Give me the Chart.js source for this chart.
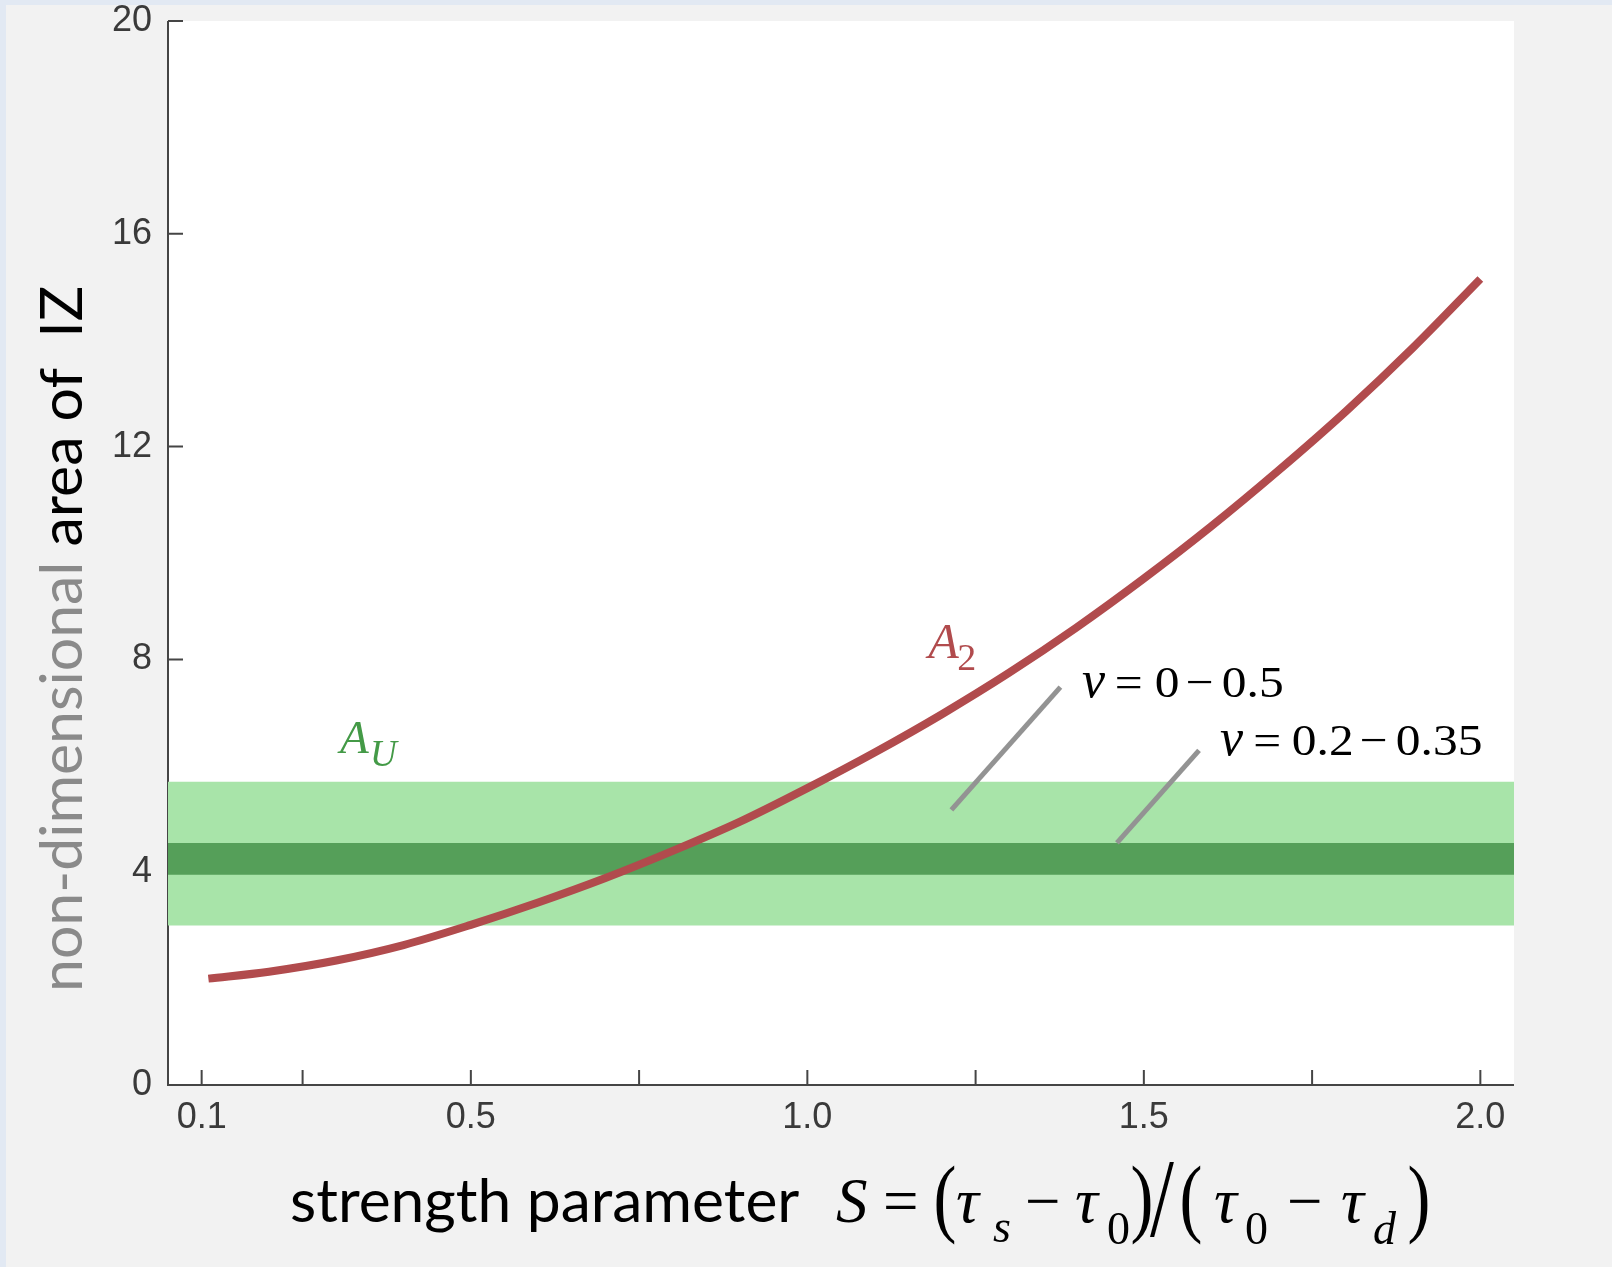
<!DOCTYPE html>
<html>
<head>
<meta charset="utf-8">
<script src="https://cdn.jsdelivr.net/npm/chart.js@4.4.1/dist/chart.umd.min.js"></script>
<style>
  html, body { margin: 0; padding: 0; background: #f2f2f2; }
  #wrap { width: 1612px; height: 1267px; position: relative; }
  canvas { display: block; }
</style>
</head>
<body>
<div id="wrap"><canvas id="chart" width="1612" height="1267"></canvas></div>
<script>
// Strength parameter S and the non-dimensional area A2 of the instability zone
const sValues  = [0.11, 0.2, 0.3, 0.4, 0.5, 0.6, 0.7, 0.8, 0.9, 1.0, 1.1, 1.2, 1.3, 1.4, 1.5, 1.6, 1.7, 1.8, 1.9, 2.0];
const a2Values = [2.00, 2.13, 2.34, 2.63, 3.01, 3.43, 3.89, 4.40, 4.95, 5.58, 6.25, 6.97, 7.75, 8.60, 9.52, 10.50, 11.55, 12.66, 13.86, 15.15];

// Range of A_U for ν = 0 – 0.5 and for ν = 0.2 – 0.35
const auRangeAll     = [3.0, 5.7];
const auRangeTypical = [3.95, 4.55];

// Leader lines pointing at the two bands: [S, A] pairs
const leaderAll     = [[1.214, 5.17], [1.376, 7.48]];
const leaderTypical = [[1.460, 4.55], [1.582, 6.29]];

// Label anchors (S, A)
const labelAU    = [0.301, 6.24];
const labelA2    = [1.175, 8.03];
const labelNuAll = [1.408, 7.29];
const labelNuTyp = [1.613, 6.20];

// Axes
const xLimits     = [0.05, 2.05];
const yLimits     = [0, 20];
const xTickValues = [0.1, 0.25, 0.5, 0.75, 1.0, 1.25, 1.5, 1.75, 2.0];
const xTickLabels = ['0.1', '', '0.5', '', '1.0', '', '1.5', '', '2.0'];
const yTickValues = [0, 4, 8, 12, 16, 20];
const yTickLabels = ['0', '4', '8', '12', '16', '20'];

const SERIF = '"Liberation Serif", "DejaVu Serif", serif';
const SANS  = '"Liberation Sans", Arial, sans-serif';
const HUMAN = 'Lato, "Open Sans", sans-serif';

const RED = '#b14b4d';
const GREEN_TEXT = '#449a47';

// Draws tokens whose ink left edges sit at x + token.at
function drawTokens(ctx, x, y, tokens, color) {
  for (const tk of tokens) {
    ctx.font = tk.font;
    const m = ctx.measureText(tk.t);
    const sx = tk.sx || 1, sy = tk.sy || 1;
    ctx.save();
    ctx.translate(x + (tk.at || 0) + m.actualBoundingBoxLeft * sx, y + (tk.dy || 0));
    ctx.scale(sx, sy);
    ctx.fillStyle = tk.color || color;
    ctx.textAlign = 'left';
    ctx.textBaseline = 'alphabetic';
    ctx.fillText(tk.t, 0, 0);
    ctx.restore();
  }
}

function nuTokens(a, b, offs) {
  const num = '45px ' + SERIF;
  return [
    { t: 'ν', font: 'italic 52px ' + SERIF, at: 0 },
    { t: '=', font: num, at: offs[0], sx: 1.1 },
    { t: a,   font: num, at: offs[1], sx: 1.1 },
    { t: '−', font: num, at: offs[2], sx: 1.1 },
    { t: b,   font: num, at: offs[3], sx: 1.1 }
  ];
}

const decor = {
  id: 'decor',
  beforeDraw(chart) {
    const { ctx, chartArea: a, width, height } = chart;
    ctx.save();
    ctx.fillStyle = '#e2e9f3';
    ctx.fillRect(0, 0, width, height);
    ctx.fillStyle = '#f2f2f2';
    ctx.fillRect(6, 5, width - 6, height - 5);
    ctx.fillStyle = '#ffffff';
    ctx.fillRect(a.left, a.top, a.right - a.left, a.bottom - a.top);
    ctx.restore();
  },
  beforeDatasetsDraw(chart) {
    // axis lines with inward tick marks
    const { ctx, chartArea: a, scales } = chart;
    const xs = scales.x, ys = scales.y;
    ctx.save();
    ctx.strokeStyle = '#454545';
    ctx.lineWidth = 2;
    ctx.beginPath();
    ctx.moveTo(a.left, a.top);
    ctx.lineTo(a.left, a.bottom);
    ctx.lineTo(a.right, a.bottom);
    for (const v of yTickValues) {
      const y = ys.getPixelForValue(v);
      ctx.moveTo(a.left, y);
      ctx.lineTo(a.left + 15, y);
    }
    for (const v of xTickValues) {
      const x = xs.getPixelForValue(v);
      ctx.moveTo(x, a.bottom);
      ctx.lineTo(x, a.bottom - 15);
    }
    ctx.stroke();
    ctx.restore();
  },
  afterDatasetsDraw(chart) {
    const { ctx, scales } = chart;
    const px = p => [scales.x.getPixelForValue(p[0]), scales.y.getPixelForValue(p[1])];

    // A_U
    let [x, y] = px(labelAU);
    drawTokens(ctx, x, y, [
      { t: 'A', font: 'italic 47px ' + SERIF, at: 0 },
      { t: 'U', font: 'italic 37px ' + SERIF, at: 36, dy: 13 }
    ], GREEN_TEXT);

    // A_2
    [x, y] = px(labelA2);
    drawTokens(ctx, x, y, [
      { t: 'A', font: 'italic 50px ' + SERIF, at: 0 },
      { t: '2', font: '38px ' + SERIF, at: 33, dy: 12 }
    ], RED);

    // ν ranges
    [x, y] = px(labelNuAll);
    drawTokens(ctx, x, y, nuTokens('0', '0.5', [35, 74, 106, 141]), '#000000');
    [x, y] = px(labelNuTyp);
    drawTokens(ctx, x, y, nuTokens('0.2', '0.35', [35.5, 73, 142, 177]), '#000000');
  },
  afterDraw(chart) {
    const { ctx } = chart;

    // y-axis title
    ctx.save();
    ctx.translate(82, 992);
    ctx.rotate(-Math.PI / 2);
    ctx.font = '59px ' + HUMAN;
    ctx.textBaseline = 'alphabetic';
    ctx.textAlign = 'left';
    ctx.fillStyle = '#8a8a8a';
    const part1 = 'non-dimensional';
    ctx.fillText(part1, 0, 0);
    const w1 = ctx.measureText(part1).width;
    ctx.fillStyle = '#000000';
    ctx.fillText(' area of  IZ', w1, 0);
    ctx.restore();

    // x-axis title
    const base = 1222;
    drawTokens(ctx, 292, base, [
      { t: 'strength parameter', font: '60.5px ' + HUMAN, at: 0 }
    ], '#000000');
    const big = '63px ' + SERIF;
    const itBig = 'italic 63px ' + SERIF;
    const tau = 'italic 64px ' + SERIF;
    const sub = 'italic 46px ' + SERIF;
    const subUp = '46px ' + SERIF;
    const paren = '86px ' + SERIF;
    drawTokens(ctx, 836, base, [
      { t: 'S', font: itBig, at: 0 },
      { t: '=', font: big, at: 50 },
      { t: '(', font: paren, at: 100, dy: 4, sx: 0.8 },
      { t: 'τ', font: tau, at: 121 },
      { t: 's', font: sub, at: 157, dy: 20 },
      { t: '−', font: big, at: 192 },
      { t: 'τ', font: tau, at: 240 },
      { t: '0', font: subUp, at: 272, dy: 22 },
      { t: ')', font: paren, at: 296, dy: 4, sx: 0.8 },
      { t: '/', font: paren, at: 314, dy: 14, sx: 1.0, sy: 1.3 },
      { t: '(', font: paren, at: 346, dy: 4, sx: 0.8 },
      { t: 'τ', font: tau, at: 379 },
      { t: '0', font: subUp, at: 410, dy: 22 },
      { t: '−', font: big, at: 454 },
      { t: 'τ', font: tau, at: 506 },
      { t: 'd', font: sub, at: 538, dy: 22 },
      { t: ')', font: paren, at: 573, dy: 4, sx: 0.8 }
    ], '#000000');
  }
};

const toXY = (xs, ys) => xs.map((v, i) => ({ x: v, y: ys[i] }));
const bandData = v => [{ x: xLimits[0], y: v }, { x: xLimits[1], y: v }];

new Chart(document.getElementById('chart'), {
  type: 'line',
  data: {
    datasets: [
      {
        label: 'A2',
        data: toXY(sValues, a2Values),
        borderColor: RED,
        borderWidth: 8,
        borderCapStyle: 'butt',
        borderJoinStyle: 'round',
        cubicInterpolationMode: 'monotone',
        pointRadius: 0,
        fill: false,
        order: 0
      },
      {
        label: 'leader ν 0–0.5',
        data: leaderAll.map(p => ({ x: p[0], y: p[1] })),
        borderColor: '#939393',
        borderWidth: 5,
        borderCapStyle: 'butt',
        pointRadius: 0,
        fill: false,
        order: 1
      },
      {
        label: 'leader ν 0.2–0.35',
        data: leaderTypical.map(p => ({ x: p[0], y: p[1] })),
        borderColor: '#939393',
        borderWidth: 5,
        borderCapStyle: 'butt',
        pointRadius: 0,
        fill: false,
        order: 1
      },
      {
        label: 'AU ν 0.2–0.35',
        data: bandData(auRangeTypical[1]),
        borderColor: 'rgba(0,0,0,0)',
        borderWidth: 0,
        pointRadius: 0,
        backgroundColor: '#559f59',
        fill: { value: auRangeTypical[0] },
        order: 2
      },
      {
        label: 'AU ν 0–0.5',
        data: bandData(auRangeAll[1]),
        borderColor: 'rgba(0,0,0,0)',
        borderWidth: 0,
        pointRadius: 0,
        backgroundColor: '#a8e4a9',
        fill: { value: auRangeAll[0] },
        order: 3
      }
    ]
  },
  options: {
    responsive: false,
    animation: false,
    devicePixelRatio: 1,
    layout: { padding: { top: 21, right: 98, left: 0, bottom: 0 } },
    plugins: {
      legend: { display: false },
      tooltip: { enabled: false },
      filler: { propagate: false }
    },
    scales: {
      x: {
        type: 'linear',
        min: xLimits[0],
        max: xLimits[1],
        grid: { display: false, drawTicks: false, tickLength: 0 },
        border: { display: false },
        afterBuildTicks: s => { s.ticks = xTickValues.map(v => ({ value: v })); },
        afterFit: s => { s.height = 182; s.paddingLeft = 0; s.paddingRight = 0; },
        ticks: {
          autoSkip: false,
          maxRotation: 0,
          padding: 11,
          color: '#3a3a3a',
          font: { family: SANS, size: 36 },
          callback: (v, i) => xTickLabels[i]
        }
      },
      y: {
        type: 'linear',
        min: yLimits[0],
        max: yLimits[1],
        grid: { display: false, drawTicks: false, tickLength: 0 },
        border: { display: false },
        afterBuildTicks: s => { s.ticks = yTickValues.map(v => ({ value: v })); },
        afterFit: s => { s.width = 168; s.paddingTop = 0; s.paddingBottom = 0; },
        ticks: {
          autoSkip: false,
          padding: 16,
          color: '#3a3a3a',
          font: { family: SANS, size: 36 },
          callback: (v, i) => yTickLabels[i]
        }
      }
    }
  },
  plugins: [decor]
});
</script>
</body>
</html>
